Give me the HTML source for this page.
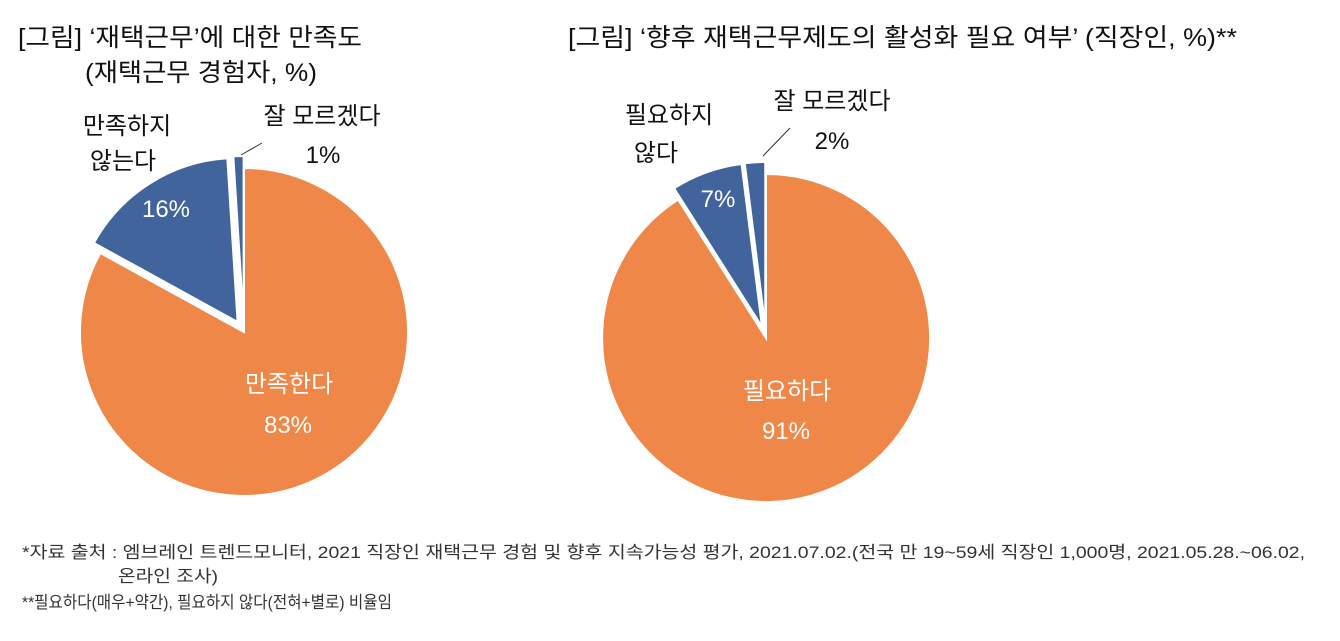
<!DOCTYPE html>
<html><head><meta charset="utf-8"><style>
body{margin:0;background:#fff;width:1340px;height:636px;overflow:hidden}
svg text{font-family:"Liberation Sans","Noto Sans CJK KR",sans-serif}
</style></head><body>
<svg width="1340" height="636" viewBox="0 0 1340 636">
<g font-size="25" fill="#111">
<text x="18" y="46" textLength="344" lengthAdjust="spacingAndGlyphs">[그림] ‘재택근무’에 대한 만족도</text>
<text x="85" y="81" textLength="232" lengthAdjust="spacingAndGlyphs">(재택근무 경험자, %)</text>
<text x="568" y="46" textLength="669" lengthAdjust="spacingAndGlyphs">[그림] ‘향후 재택근무제도의 활성화 필요 여부’ (직장인, %)**</text>
</g>
<!-- left pie -->
<path d="M244,332 L244,168 A164,164 0 1 1 100.3,253 Z" fill="#EF8748" stroke="#fff" stroke-width="2"/>
<g transform="translate(-6.4,-10)"><path d="M244,332 L100.3,253 A164,164 0 0 1 233.7,168.3 Z" fill="#41649D" stroke="#fff" stroke-width="2"/></g>
<g transform="translate(-0.4,-12)"><path d="M244,332 L233.7,168.3 A164,164 0 0 1 244,168 Z" fill="#41649D" stroke="#fff" stroke-width="2"/></g>
<line x1="241" y1="155" x2="262" y2="143" stroke="#333" stroke-width="1"/>
<!-- right pie -->
<path d="M766,338 L766,174 A164,164 0 1 1 678.1,199.6 Z" fill="#EF8748" stroke="#fff" stroke-width="2"/>
<g transform="translate(-4,-11.3)"><path d="M766,338 L678.1,199.6 A164,164 0 0 1 745.5,175.3 Z" fill="#41649D" stroke="#fff" stroke-width="2"/></g>
<g transform="translate(-0.75,-12)"><path d="M766,338 L745.5,175.3 A164,164 0 0 1 766,174 Z" fill="#41649D" stroke="#fff" stroke-width="2"/></g>
<line x1="763" y1="156" x2="790" y2="128" stroke="#333" stroke-width="1"/>
<g font-size="24" text-anchor="middle">
<text x="127" y="134" fill="#111">만족하지</text>
<text x="123" y="169" fill="#111">않는다</text>
<text x="166" y="217" fill="#fff">16%</text>
<text x="322" y="124" fill="#111">잘 모르겠다</text>
<text x="323" y="163" fill="#111">1%</text>
<text x="289" y="392" fill="#fff">만족한다</text>
<text x="288" y="433" fill="#fff">83%</text>
<text x="669" y="123" fill="#111">필요하지</text>
<text x="656" y="161" fill="#111">않다</text>
<text x="718" y="207" fill="#fff">7%</text>
<text x="832" y="109" fill="#111">잘 모르겠다</text>
<text x="832" y="149" fill="#111">2%</text>
<text x="787" y="399" fill="#fff">필요하다</text>
<text x="786" y="439" fill="#fff">91%</text>
</g>
<g font-size="17" fill="#333">
<text x="22" y="558" textLength="1283" lengthAdjust="spacingAndGlyphs">*자료 출처 : 엠브레인 트렌드모니터, 2021 직장인 재택근무 경험 및 향후 지속가능성 평가, 2021.07.02.(전국 만 19~59세 직장인 1,000명, 2021.05.28.~06.02,</text>
<text x="118" y="582" textLength="100" lengthAdjust="spacingAndGlyphs">온라인 조사)</text>
<text x="22" y="608" textLength="370" lengthAdjust="spacingAndGlyphs">**필요하다(매우+약간), 필요하지 않다(전혀+별로) 비율임</text>
</g>
</svg>
</body></html>
